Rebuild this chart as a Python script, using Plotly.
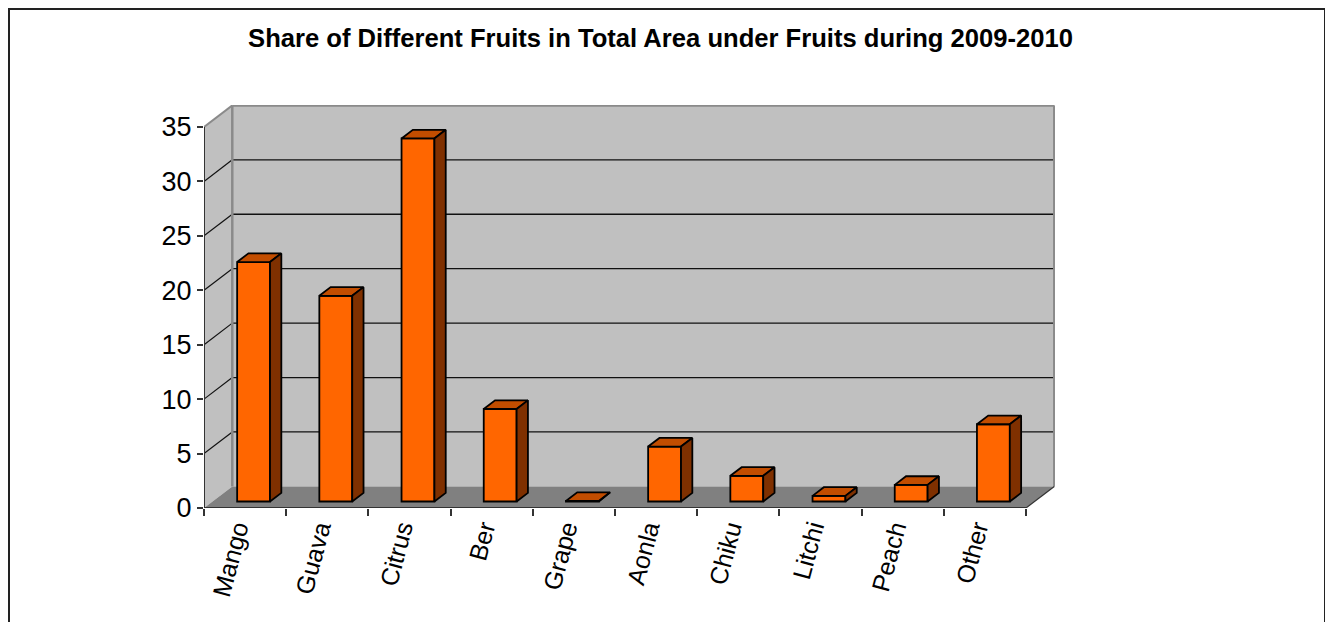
import plotly.graph_objects as go

# ---- data ----
categories = ["Mango", "Guava", "Citrus", "Ber", "Grape", "Aonla", "Chiku", "Litchi", "Peach", "Other"]
values = [22.0, 18.9, 33.35, 8.5, 0.05, 5.05, 2.36, 0.52, 1.53, 7.1]
y_ticks = [0, 5, 10, 15, 20, 25, 30, 35]
title_text = "Share of Different Fruits in Total Area under Fruits during 2009-2010"

# ---- 3-D look parameters (in axis units) ----
Y_MAX = 35
DX, DY = 0.344, 1.984          # depth offset of back wall
D0, DD = 0.30, 0.40            # bar front depth fraction and bar depth fraction
BAR_W = 0.40
n = len(categories)
XL, XR = -0.5, n - 0.5

ORANGE, TOP, SIDE = "#FF6600", "#C24D00", "#7F3000"
WALL, FLOOR, EDGE = "#C0C0C0", "#808080", "#8A8A8A"

# figure / plot-area geometry (page is offset by the 8px body margin)
FIG_W, FIG_H = 1320, 614
PL, PT, PW, PH = 196, 97, 851, 403

fig = go.Figure()

# front faces of the bars
bx = [i + D0 * DX for i in range(n)]
base = D0 * DY
fig.add_trace(go.Bar(
    x=bx, y=values, base=[base] * n, width=BAR_W,
    marker=dict(color=ORANGE, line=dict(color="black", width=1.8)),
    xaxis="x", yaxis="y", showlegend=False, hoverinfo="skip",
))

# top and side faces
for i, v in enumerate(values):
    xl = bx[i] - BAR_W / 2
    xr = bx[i] + BAR_W / 2
    t = base + v
    ddx, ddy = DD * DX, DD * DY
    fig.add_trace(go.Scatter(
        x=[xl, xr, xr + ddx, xl + ddx, xl], y=[t, t, t + ddy, t + ddy, t],
        fill="toself", fillcolor=TOP, mode="lines",
        line=dict(color="black", width=1.8), showlegend=False, hoverinfo="skip"))
    fig.add_trace(go.Scatter(
        x=[xr, xr + ddx, xr + ddx, xr, xr], y=[base, base + ddy, t + ddy, t, base],
        fill="toself", fillcolor=SIDE, mode="lines",
        line=dict(color="black", width=1.8), showlegend=False, hoverinfo="skip"))

shapes = []
def poly(pts, fill, line_color=None, width=0):
    path = "M " + " L ".join(f"{x},{y}" for x, y in pts) + " Z"
    shapes.append(dict(type="path", path=path, xref="x", yref="y", layer="below",
                       fillcolor=fill, line=dict(color=line_color or fill, width=width)))

def seg(x0, y0, x1, y1, color, width):
    shapes.append(dict(type="line", x0=x0, y0=y0, x1=x1, y1=y1, xref="x", yref="y",
                       layer="below", line=dict(color=color, width=width)))

# walls and floor
poly([(XL, 0), (XL, Y_MAX), (XL + DX, Y_MAX + DY), (XL + DX, DY)], WALL)
poly([(XL + DX, DY), (XL + DX, Y_MAX + DY), (XR + DX, Y_MAX + DY), (XR + DX, DY)], WALL)
poly([(XL, 0), (XR, 0), (XR + DX, DY), (XL + DX, DY)], FLOOR)

# gridlines on back and side walls
for v in y_ticks[1:-1]:
    seg(XL + DX, v + DY, XR + DX, v + DY, "#111111", 1.3)
    seg(XL, v, XL + DX, v + DY, "#111111", 1.2)

# wall edges
seg(XL + DX, DY, XL + DX, Y_MAX + DY, EDGE, 2.5)
seg(XL + DX, Y_MAX + DY, XR + DX, Y_MAX + DY, EDGE, 2.5)
seg(XR + DX, DY, XR + DX, Y_MAX + DY, EDGE, 2.5)
seg(XL, Y_MAX, XL + DX, Y_MAX + DY, EDGE, 2)
# axis edges
seg(XL, 0, XL, Y_MAX, "#333333", 2)
seg(XL, 0, XR, 0, "#333333", 2)
seg(XR, 0, XR + DX, DY, "#333333", 1.2)

# outer chart border
shapes.append(dict(type="rect", xref="paper", yref="paper",
                   x0=(1 - PL) / PW, x1=(1317 - PL) / PW,
                   y0=-1.0, y1=(PT + PH - 1) / PH,
                   line=dict(color="#222222", width=2), fillcolor="rgba(0,0,0,0)", layer="below"))

X_RANGE = [-0.5, -0.5 + PW / 82.2]
Y_RANGE = [0, PH / 10.886]

font_family = "Liberation Sans, Arial, sans-serif"
fig.update_layout(
    width=FIG_W, height=FIG_H,
    margin=dict(l=PL, r=FIG_W - PL - PW, t=PT, b=FIG_H - PT - PH, autoexpand=False),
    paper_bgcolor="white", plot_bgcolor="white",
    shapes=shapes,
    showlegend=False,
    title=dict(text=f"<b>{title_text}</b>", x=652.5 / FIG_W, xanchor="center", xref="container",
               y=1 - 30 / FIG_H, yanchor="middle",
               font=dict(family=font_family, size=25.6, color="black")),
    xaxis=dict(range=X_RANGE, tickmode="array", tickvals=[k - 0.5 for k in range(n + 1)],
               showticklabels=False, ticks="outside", ticklen=7, tickwidth=1.5, tickcolor="#333333",
               showgrid=False, zeroline=False, showline=False, fixedrange=True),
    xaxis2=dict(range=X_RANGE, overlaying="x", anchor="y", side="bottom", tickmode="array",
                tickvals=[i - 0.1 for i in range(n)], ticktext=categories, tickangle=-75,
                ticks="", ticklen=0,
                tickfont=dict(family=font_family, size=25, color="black"),
                showgrid=False, zeroline=False, showline=False, fixedrange=True),
    yaxis=dict(range=Y_RANGE, tickmode="array", tickvals=y_ticks, ticks="outside", ticklen=6,
               tickwidth=1.5, tickcolor="#333333", ticklabelstandoff=0,
               tickfont=dict(family=font_family, size=27, color="black"),
               showgrid=False, zeroline=False, showline=False, fixedrange=True),
)
# an invisible trace so xaxis2 is rendered
fig.add_trace(go.Scatter(x=[0], y=[0], xaxis="x2", yaxis="y", mode="markers",
                         marker=dict(opacity=0), showlegend=False, hoverinfo="skip"))

fig.write_html("out.html")
